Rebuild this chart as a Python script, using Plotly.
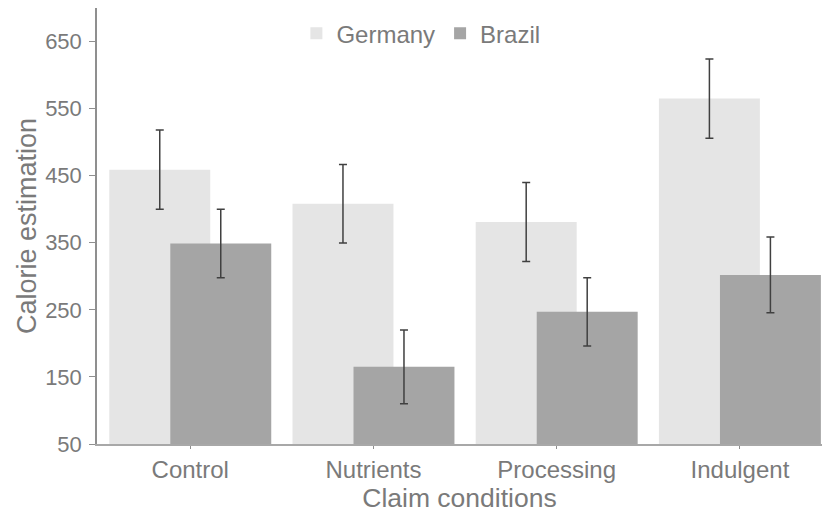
import plotly.graph_objects as go

categories = ["Control", "Nutrients", "Processing", "Indulgent"]
germany = [459, 408, 381, 565]
germany_err = [59, 58.5, 59, 59]
brazil = [349, 165, 247, 302]
brazil_err = [51, 55, 51, 56.5]
y_ticks = [50, 150, 250, 350, 450, 550, 650]

FONT = "Liberation Sans, Arial, Helvetica, sans-serif"
TXT = "#7a7a7a"
AX = "#8f8f8f"

fig = go.Figure()
fig.add_trace(go.Bar(
    name="Germany", x=categories, y=germany,
    marker=dict(color="#e5e5e5", line=dict(width=0)),
    width=0.551, offset=-0.442,
    error_y=dict(type="data", array=germany_err, color="#404040", thickness=1.5, width=4),
))
fig.add_trace(go.Bar(
    name="Brazil", x=categories, y=brazil,
    marker=dict(color="#a5a5a5", line=dict(width=0)),
    width=0.551, offset=-0.109,
    error_y=dict(type="data", array=brazil_err, color="#404040", thickness=1.5, width=4),
))

fig.update_layout(
    width=822, height=517,
    margin=dict(l=97, r=0, t=8, b=73, autoexpand=False),
    paper_bgcolor="white", plot_bgcolor="white",
    barmode="overlay",
    font=dict(family=FONT, color=TXT),
    showlegend=True,
    legend=dict(orientation="h", x=0.275, xanchor="left", y=0.993, yanchor="top",
                font=dict(size=24, color=TXT), bgcolor="rgba(0,0,0,0)",
                itemwidth=30, tracegroupgap=0),
    xaxis=dict(
        range=[-0.509, 3.448], type="category", automargin=False,
        showline=True, linecolor="#a8a8a8", linewidth=2,
        ticks="outside", ticklen=3, tickcolor=AX,
        tickfont=dict(size=24, color=TXT),
        title=dict(text="Claim conditions", font=dict(size=26.5, color=TXT), standoff=4),
        showgrid=False, zeroline=False,
    ),
    yaxis=dict(
        range=[50, 700], tickvals=y_ticks, automargin=False,
        showline=True, linecolor=AX, linewidth=1.5,
        ticks="outside", ticklen=6, tickcolor=AX,
        tickfont=dict(size=22, color=TXT), ticklabelstandoff=3,
        title=dict(text="Calorie estimation", font=dict(size=27, color=TXT), standoff=1),
        showgrid=False, zeroline=False,
    ),
)

fig.write_html(
    "out.html",
    config={"displayModeBar": False},
    post_script="document.body.style.margin='0px';document.body.style.overflow='hidden';",
)
